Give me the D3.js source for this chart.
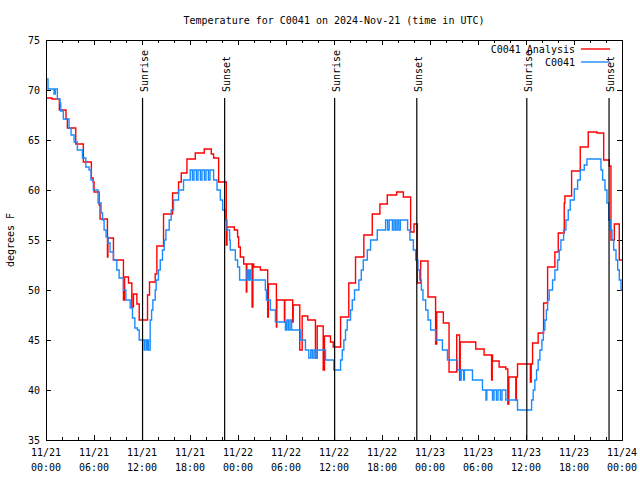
<!DOCTYPE html>
<html><head><meta charset="utf-8">
<script src="https://cdn.jsdelivr.net/npm/d3@7"></script>
<style>
html,body{margin:0;padding:0;background:#fff;}
svg{display:block;}
text{font-family:"DejaVu Sans Mono","Liberation Mono",monospace;font-size:10px;fill:#000;}
</style></head>
<body>
<svg id="chart" width="640" height="480"></svg>
<script>
// ---- data (hours since 2024-11-21 00:00 UTC, degrees F) ----
const titleText = "Temperature for C0041 on 2024-Nov-21 (time in UTC)";
const yLabel = "degrees F";
const seriesNames = ["C0041 Analysis", "C0041"];
const seriesColors = ["#ff0000", "#1a8cff"];

const analysis = [[0,69.2],[0.75,69.1],[1.67,68.0],[2.5,67.1],[2.67,66.2],[3.72,64.6],[4.67,62.8],[5.67,61.2],[5.89,60.8],[6.01,59.8],[6.64,58.5],[6.76,57.1],[7.68,53.3],[7.74,55.2],[8.43,53.0],[9.68,49.0],[9.83,51.3],[10.31,50.7],[10.73,48.3],[10.93,49.6],[11.36,48.6],[11.65,47.0],[12.69,49.5],[12.94,50.8],[13.65,51.6],[13.86,54.4],[14.69,57.6],[15.82,59.7],[16.57,60.8],[16.91,61.7],[17.62,63.1],[18.66,63.7],[19.78,64.1],[20.66,63.6],[20.95,63.2],[21.58,60.8],[22.54,54.5],[22.63,56.3],[23.54,56.0],[23.95,55.3],[24.08,54.3],[24.29,53.3],[24.71,52.6],[25.04,49.8],[25.1,52.6],[25.76,48.3],[25.86,52.6],[25.96,52.3],[26.8,52.0],[27.71,47.3],[27.8,50.6],[28.8,46.3],[28.85,49.0],[29.8,46.8],[29.85,49.0],[30.84,46.8],[30.9,48.5],[31.72,44.0],[32.02,47.4],[32.72,47.0],[33.68,43.2],[33.9,46.4],[34.65,42.0],[34.81,45.4],[35.56,44.8],[35.9,44.3],[36.82,47.3],[37.85,50.7],[38.69,53.3],[39.73,55.5],[40.78,57.6],[41.74,58.6],[42.66,59.5],[43.83,59.8],[44.67,59.3],[45.58,55.8],[46.0,56.6],[46.42,50.7],[46.83,52.9],[47.75,49.3],[48.7,44.6],[48.84,47.8],[49.67,46.7],[50.38,41.8],[51.34,45.5],[51.7,41.0],[51.78,44.8],[53.72,44.1],[54.76,43.5],[55.7,41.0],[55.78,43.5],[55.81,42.9],[56.64,42.3],[57.48,42.1],[57.73,38.6],[57.85,41.3],[58.73,39.0],[58.8,41.3],[58.94,42.6],[60.55,40.8],[60.65,42.6],[60.82,44.7],[61.52,45.7],[62.2,48.7],[62.7,52.3],[63.61,53.8],[64.03,55.7],[64.78,58.7],[64.86,59.4],[65.7,61.9],[66.78,64.3],[67.78,65.8],[68.87,65.7],[69.71,63.0],[70.41,62.4],[70.62,55.0],[71.04,56.6],[71.66,53.0],[72,53.0]];

const observed = [[0,71.1],[0.25,70.1],[1.0,69.6],[1.16,70.1],[1.42,69.1],[1.75,68.7],[1.84,67.9],[2.17,67.1],[2.88,66.2],[3.13,65.5],[3.51,64.8],[3.92,64.0],[4.55,63.2],[4.97,62.3],[5.38,62.0],[5.63,61.0],[5.92,60.0],[6.51,58.7],[6.89,57.7],[7.07,57.0],[7.26,56.0],[7.51,55.3],[7.76,54.7],[8.01,53.8],[8.43,53.0],[8.85,52.0],[9.14,51.2],[9.68,50.0],[9.98,49.0],[10.52,48.2],[10.81,47.2],[11.11,46.2],[11.43,46.0],[11.65,45.0],[12.27,44.0],[12.35,45.0],[12.56,44.0],[12.64,45.0],[12.81,44.0],[13.02,47.0],[13.2,48.0],[13.36,49.0],[13.65,50.0],[13.77,51.0],[14.06,52.0],[14.28,53.0],[14.56,54.0],[14.78,55.0],[14.99,56.0],[15.4,57.0],[15.65,58.0],[15.94,59.0],[16.57,60.0],[17.19,61.0],[18.03,62.0],[18.3,61.0],[18.5,62.0],[18.8,61.0],[19.0,62.0],[19.3,61.0],[19.5,62.0],[19.8,61.0],[20.0,62.0],[20.3,61.0],[20.5,62.0],[20.95,61.0],[21.38,60.0],[21.79,59.0],[22.08,58.0],[22.41,57.0],[22.63,56.0],[22.95,55.0],[23.04,54.0],[23.67,53.0],[23.95,52.3],[24.2,51.0],[25.13,52.0],[25.3,51.0],[25.45,52.0],[25.55,51.0],[27.42,50.0],[27.55,49.0],[28.05,48.0],[28.68,46.8],[29.93,46.0],[30.1,47.0],[30.3,46.0],[30.5,47.0],[30.7,46.0],[31.81,45.0],[32.43,44.0],[32.85,43.2],[33.1,44.0],[33.3,43.2],[33.5,44.0],[33.7,43.2],[33.9,44.0],[34.94,43.0],[35.98,42.0],[36.82,43.0],[37.03,44.0],[37.23,45.0],[37.44,46.0],[37.65,47.0],[38.07,48.0],[38.28,49.0],[38.57,50.0],[39.11,51.0],[39.41,52.0],[39.66,53.0],[40.16,54.0],[40.57,55.0],[41.41,56.0],[42.45,57.0],[42.7,56.0],[42.9,57.0],[43.3,56.0],[43.5,57.0],[43.7,56.0],[43.9,57.0],[44.1,56.0],[44.3,57.0],[45.2,56.0],[45.49,55.0],[45.92,54.0],[46.21,53.0],[46.49,52.0],[46.71,51.0],[46.92,50.0],[47.12,49.0],[47.46,48.0],[47.75,47.0],[48.08,46.0],[48.71,45.0],[49.55,44.0],[50.18,43.0],[51.43,42.0],[51.8,41.0],[51.9,42.0],[52.2,41.0],[52.3,42.0],[53.31,41.0],[54.56,40.0],[55.0,39.0],[55.1,40.0],[55.81,39.0],[56.0,40.0],[56.3,39.0],[56.5,40.0],[56.8,39.0],[57.0,40.0],[57.48,39.0],[58.94,38.0],[60.7,39.0],[60.9,40.0],[61.11,41.0],[61.32,42.0],[61.52,43.0],[61.74,44.0],[61.99,45.0],[62.17,46.0],[62.36,47.0],[62.55,48.0],[62.7,49.0],[62.9,50.0],[63.32,51.0],[63.61,52.0],[63.95,53.0],[64.15,54.0],[64.36,55.0],[64.7,56.0],[64.99,57.0],[65.28,58.0],[65.53,59.0],[66.03,60.1],[66.45,61.0],[66.78,62.0],[67.28,62.5],[67.62,63.1],[69.37,62.0],[69.58,61.0],[69.87,60.0],[70.12,58.7],[70.34,57.0],[70.54,56.0],[70.75,55.0],[70.96,54.0],[71.25,53.0],[71.46,52.0],[71.66,51.0],[71.88,50.0],[72,50.0]];

const sunriseHours = [12.07, 36.08, 60.1];
const sunsetHours = [22.33, 46.35, 70.38];

const xTickHours = [0,6,12,18,24,30,36,42,48,54,60,66,72];
const xTickDates = ["11/21","11/21","11/21","11/21","11/22","11/22","11/22","11/22","11/23","11/23","11/23","11/23","11/24"];
const xTickTimes = ["00:00","06:00","12:00","18:00","00:00","06:00","12:00","18:00","00:00","06:00","12:00","18:00","00:00"];
const yTicks = [35,40,45,50,55,60,65,70,75];

// ---- drawing ----
const svg = d3.select("#chart");
const L = 46, R = 622, T = 40, B = 440;
const x = d3.scaleLinear().domain([0,72]).range([L,R]);
const y = d3.scaleLinear().domain([35,75]).range([B,T]);

svg.append("text").attr("x",(L+R)/2).attr("y",24).attr("text-anchor","middle").text(titleText);

// y ticks
const gy = svg.append("g");
yTicks.forEach(v=>{
  gy.append("line").attr("x1",L).attr("x2",L+5).attr("y1",y(v)).attr("y2",y(v)).attr("stroke","#000").attr("shape-rendering","crispEdges");
  gy.append("line").attr("x1",R-5).attr("x2",R).attr("y1",y(v)).attr("y2",y(v)).attr("stroke","#000").attr("shape-rendering","crispEdges");
  gy.append("text").attr("x",40).attr("y",y(v)+4).attr("text-anchor","end").text(v);
});
svg.append("text").attr("transform",`translate(14,${(T+B)/2}) rotate(-90)`).attr("text-anchor","middle").text(yLabel);

// x ticks (major every 6h, minor every 2h)
const gx = svg.append("g");
d3.range(0,73,2).forEach(h=>{
  const major = h%6===0;
  const len = major?5:3;
  gx.append("line").attr("x1",x(h)).attr("x2",x(h)).attr("y1",B).attr("y2",B-len).attr("stroke","#000").attr("shape-rendering","crispEdges");
  gx.append("line").attr("x1",x(h)).attr("x2",x(h)).attr("y1",T).attr("y2",T+len).attr("stroke","#000").attr("shape-rendering","crispEdges");
});
xTickHours.forEach((h,i)=>{
  const t = gx.append("text").attr("text-anchor","middle");
  t.append("tspan").attr("x",x(h)).attr("y",456).text(xTickDates[i]);
  t.append("tspan").attr("x",x(h)).attr("y",471).text(xTickTimes[i]);
});

// series
const line = d3.line().x(d=>x(d[0])).y(d=>y(d[1])).curve(d3.curveStepAfter);
[analysis, observed].forEach((s,i)=>{
  svg.append("path").datum(s).attr("d",line).attr("fill","none").attr("stroke",seriesColors[i]).attr("stroke-width",1.4);
});

// sunrise / sunset markers
const sun = sunriseHours.map(h=>({h,label:"Sunrise"})).concat(sunsetHours.map(h=>({h,label:"Sunset"})));
sun.forEach(s=>{
  svg.append("line").attr("x1",x(s.h)).attr("x2",x(s.h)).attr("y1",98).attr("y2",B).attr("stroke","#000").attr("stroke-width",1.2);
  svg.append("text").attr("transform",`translate(${x(s.h)+5},92) rotate(-90)`).attr("text-anchor","start").text(s.label);
});

// frame
svg.append("rect").attr("x",L).attr("y",T).attr("width",R-L).attr("height",B-T).attr("fill","none").attr("stroke","#000").attr("shape-rendering","crispEdges");

// legend
seriesNames.forEach((n,i)=>{
  const ly = 49 + i*13;
  svg.append("text").attr("x",575).attr("y",ly+4).attr("text-anchor","end").text(n);
  svg.append("line").attr("x1",581).attr("x2",610).attr("y1",ly).attr("y2",ly).attr("stroke",seriesColors[i]).attr("stroke-width",1.4);
});
</script>
</body></html>
